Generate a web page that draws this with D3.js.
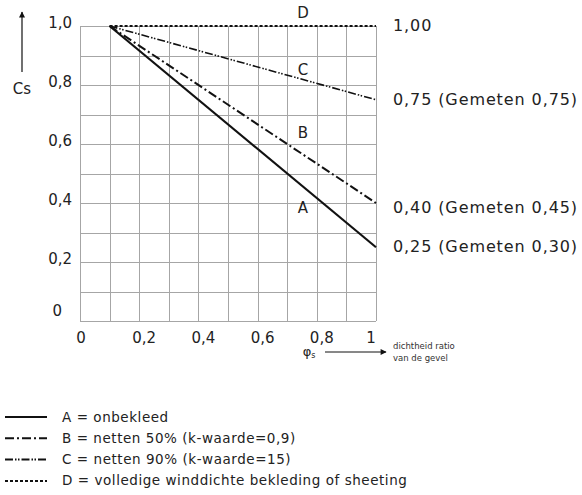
<!DOCTYPE html>
<html>
<head>
<meta charset="utf-8">
<script src="https://cdn.jsdelivr.net/npm/d3@7"></script>
<style>
  html, body { margin: 0; padding: 0; background: #fff; }
  svg { display: block; font-family: "DejaVu Sans", Verdana, sans-serif; }
</style>
</head>
<body>
<svg id="chart" width="582" height="495"></svg>
<script>
// Reduction factor Cs against facade density ratio φs
const series = ["A", "B", "C", "D"];
const startX = [0.1, 0.1, 0.1, 0.1];
const startY = [1.0, 1.0, 1.0, 1.0];
const endX = [1.0, 1.0, 1.0, 1.0];
const endY = [0.25, 0.40, 0.75, 1.00];
const endLabels = ["0,25 (Gemeten 0,30)", "0,40 (Gemeten 0,45)", "0,75 (Gemeten 0,75)", "1,00"];
const xTicks = [0, 0.2, 0.4, 0.6, 0.8, 1];
const xTickLabels = ["0", "0,2", "0,4", "0,6", "0,8", "1"];
const yTicks = [0, 0.2, 0.4, 0.6, 0.8, 1.0];
const yTickLabels = ["0", "0,2", "0,4", "0,6", "0,8", "1,0"];
const legendTexts = [
  "A = onbekleed",
  "B = netten 50% (k-waarde=0,9)",
  "C = netten 90% (k-waarde=15)",
  "D = volledige winddichte bekleding of sheeting"
];
const dashes = [null, "9,3,2,3", "8,2,1.5,1.5,1.5,2", "3,2"];
const widths = [2.2, 2, 1.6, 1.8];

const svg = d3.select("#chart");
const x = d3.scaleLinear().domain([0, 1]).range([80, 376]);
const y = d3.scaleLinear().domain([0, 1]).range([321, 26]);

// grid
const grid = svg.append("g").attr("stroke", "#a6a6a6").attr("stroke-width", 1).attr("shape-rendering", "crispEdges");
d3.range(0, 11).forEach(i => {
  const v = i / 10;
  grid.append("line").attr("x1", Math.round(x(v)) + 0.5).attr("x2", Math.round(x(v)) + 0.5)
    .attr("y1", y(1)).attr("y2", y(0));
  grid.append("line").attr("x1", x(0)).attr("x2", x(1))
    .attr("y1", Math.round(y(v)) + 0.5).attr("y2", Math.round(y(v)) + 0.5);
});

// y tick labels
svg.append("g").selectAll("text").data(yTicks).join("text")
  .attr("x", d => d === 0 ? 62 : 72)
  .attr("y", d => y(d) + (d === 0 ? -5 : 2))
  .attr("text-anchor", "end")
  .attr("font-size", 15).attr("fill", "#222")
  .text((d, i) => yTickLabels[i]);

// x tick labels
svg.append("g").selectAll("text").data(xTicks).join("text")
  .attr("x", (d, i) => x(d) + (i === 0 ? 1 : i === xTicks.length - 1 ? -5 : 5))
  .attr("y", 343)
  .attr("text-anchor", "middle")
  .attr("font-size", 15).attr("fill", "#222")
  .text((d, i) => xTickLabels[i]);

// arrow marker
const defs = svg.append("defs");
defs.append("marker").attr("id", "arr").attr("viewBox", "0 0 10 10")
  .attr("refX", 9).attr("refY", 5).attr("markerWidth", 8).attr("markerHeight", 6)
  .attr("markerUnits", "userSpaceOnUse").attr("orient", "auto")
  .append("path").attr("d", "M0,0L10,5L0,10z").attr("fill", "#111");

// y axis arrow and label
svg.append("line").attr("x1", 22).attr("x2", 22).attr("y1", 72).attr("y2", 12)
  .attr("stroke", "#111").attr("stroke-width", 1.2).attr("marker-end", "url(#arr)");
svg.append("text").attr("x", 22).attr("y", 94).attr("text-anchor", "middle")
  .attr("font-size", 15).attr("fill", "#222").text("Cs");

// x axis arrow and label
svg.append("text").attr("x", 309).attr("y", 356).attr("text-anchor", "middle")
  .attr("font-size", 13).attr("fill", "#222").text("φ").append("tspan")
  .attr("font-size", 8).attr("dy", 2).text("s");
svg.append("line").attr("x1", 325).attr("x2", 386).attr("y1", 352).attr("y2", 352)
  .attr("stroke", "#111").attr("stroke-width", 1).attr("marker-end", "url(#arr)");
svg.append("text").attr("x", 393).attr("y", 349).attr("font-size", 8.5).attr("fill", "#333").text("dichtheid ratio");
svg.append("text").attr("x", 393).attr("y", 361).attr("font-size", 8.5).attr("fill", "#333").text("van de gevel");

// curves
const lines = svg.append("g");
series.forEach((s, i) => {
  lines.append("line")
    .attr("x1", x(startX[i])).attr("y1", y(startY[i]))
    .attr("x2", x(endX[i])).attr("y2", y(endY[i]))
    .attr("stroke", "#111").attr("stroke-width", widths[i])
    .attr("stroke-dasharray", dashes[i]);
});

// series letters
const letterY = [208, 133, 70, 13];
svg.append("g").selectAll("text").data(series).join("text")
  .attr("x", 303).attr("y", (d, i) => letterY[i] + 5)
  .attr("text-anchor", "middle").attr("font-size", 15).attr("fill", "#222")
  .text(d => d);

// end value labels
const endLabelOffset = [0, 5, 0, 0];
svg.append("g").selectAll("text").data(series).join("text")
  .attr("x", 393).attr("y", (d, i) => y(endY[i]) + 5 + endLabelOffset[i])
  .attr("font-size", 16).attr("letter-spacing", 0.9).attr("fill", "#222")
  .text((d, i) => endLabels[i]);

// legend
const lg = svg.append("g");
series.forEach((s, i) => {
  const ly = 417 + i * 21.3;
  lg.append("line").attr("x1", 5).attr("x2", 47).attr("y1", ly).attr("y2", ly)
    .attr("stroke", "#111").attr("stroke-width", 2).attr("stroke-dasharray", dashes[i]);
  lg.append("text").attr("x", 62).attr("y", ly + 4.5).attr("font-size", 13.5)
    .attr("letter-spacing", 0.55).attr("fill", "#222")
    .text(legendTexts[i]);
});
</script>
</body>
</html>
